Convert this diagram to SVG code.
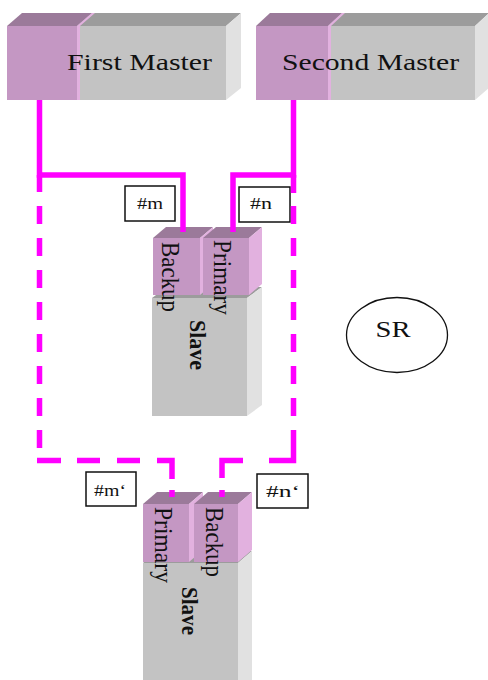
<svg xmlns="http://www.w3.org/2000/svg" width="488" height="680" viewBox="0 0 488 680">
<style>
.pf{fill:#c497c3}.pt{fill:#9b7a9a}.ps{fill:#e2b1df}
.gf{fill:#c3c3c3}.gt{fill:#9c9c9c}.gs{fill:#e1e1e1}
.t{font-family:"Liberation Serif","Times New Roman",serif;fill:#111}
.lbl{fill:#fff;stroke:#111;stroke-width:1.5}
.con{fill:none;stroke:#ff00ff;stroke-width:5.5;stroke-linecap:butt;stroke-linejoin:miter}
</style>
<rect width="488" height="680" fill="#fff"/>
<g id="firstMaster">
<polygon class="gt" points="77,26 226,26 241,13 92,13"/>
<rect class="gf" x="77" y="26" width="149" height="74"/>
<polygon class="gs" points="226,26 241,13 241,88 226,100"/>
<polygon class="pt" points="7,26 77,26 92,13 22,13"/>
<rect class="pf" x="7" y="26" width="70" height="74"/>
<polygon class="ps" points="77,100 77,26 92,13 95,13 80,26 80,100"/>
<text class="t" x="67" y="70" font-size="24" textLength="145" lengthAdjust="spacingAndGlyphs">First Master</text>
</g>
<g id="secondMaster">
<polygon class="gt" points="328,26 475,26 489,13 342,13"/>
<rect class="gf" x="328" y="26" width="147" height="74"/>
<polygon class="gs" points="475,26 489,13 489,88 475,100"/>
<polygon class="pt" points="256,26 328,26 342,13 270,13"/>
<rect class="pf" x="256" y="26" width="72" height="74"/>
<polygon class="ps" points="328,100 328,26 342,13 345,13 331,26 331,100"/>
<text class="t" x="282" y="70" font-size="24" textLength="177" lengthAdjust="spacingAndGlyphs">Second Master</text>
</g>
<g id="slaveUpper">
<polygon class="gt" points="152,298 247,298 262,287 167,287"/>
<rect class="gf" x="152" y="298" width="95" height="118"/>
<polygon class="gs" points="247,298 262,287 262,405 247,416"/>
<g id="backupUpper">
<polygon class="pt" points="153,238 200,238 213,227 166,227"/>
<rect class="pf" x="153" y="238" width="47" height="57"/>
<polygon class="ps" points="200,238 213,227 213,284 200,295"/>
</g>
<g id="primaryUpper">
<polygon class="pt" points="203,238 249,238 262,227 216,227"/>
<rect class="pf" x="203" y="238" width="46" height="57"/>
<polygon class="ps" points="249,238 262,227 262,284 249,295"/>
</g>
<text class="t" transform="translate(162,242) rotate(90) scale(1,1.24)" font-size="20" textLength="70" lengthAdjust="spacingAndGlyphs">Backup</text>
<text class="t" transform="translate(214,240) rotate(90) scale(1,1.24)" font-size="20" textLength="75" lengthAdjust="spacingAndGlyphs">Primary</text>
<text class="t" transform="translate(190,320) rotate(90) scale(1,1.24)" font-size="19" font-weight="bold" textLength="50" lengthAdjust="spacingAndGlyphs">Slave</text>
</g>
<g id="slaveLower">
<polygon class="gt" points="143,563 238,563 252,551 157,551"/>
<rect class="gf" x="143" y="563" width="95" height="130"/>
<polygon class="gs" points="238,563 252,551 252,690 238,690"/>
<g id="primaryLower">
<polygon class="pt" points="143,504 189,504 203,492 157,492"/>
<rect class="pf" x="143" y="504" width="46" height="58"/>
<polygon class="ps" points="189,504 203,492 203,550 189,562"/>
</g>
<g id="backupLower">
<polygon class="pt" points="194,504 238,504 252,492 208,492"/>
<rect class="pf" x="194" y="504" width="44" height="58"/>
<polygon class="ps" points="238,504 252,492 252,550 238,562"/>
</g>
<text class="t" transform="translate(155,507) rotate(90) scale(1,1.24)" font-size="20" textLength="76" lengthAdjust="spacingAndGlyphs">Primary</text>
<text class="t" transform="translate(206,507) rotate(90) scale(1,1.24)" font-size="20" textLength="70" lengthAdjust="spacingAndGlyphs">Backup</text>
<text class="t" transform="translate(182,587) rotate(90) scale(1,1.24)" font-size="19" font-weight="bold" textLength="48" lengthAdjust="spacingAndGlyphs">Slave</text>
</g>
<g id="labelM">
<rect class="lbl" x="125" y="186" width="50" height="35"/>
<text class="t" x="150" y="209" font-size="17" text-anchor="middle" textLength="26" lengthAdjust="spacingAndGlyphs">#m</text>
</g>
<g id="labelN">
<rect class="lbl" x="239" y="187" width="51" height="35"/>
<text class="t" x="261" y="209" font-size="17" text-anchor="middle" textLength="22" lengthAdjust="spacingAndGlyphs">#n</text>
</g>
<g id="labelM2">
<rect class="lbl" x="86" y="472" width="50" height="34"/>
<text class="t" x="110" y="496" font-size="17" text-anchor="middle" textLength="32" lengthAdjust="spacingAndGlyphs">#m‘</text>
</g>
<g id="labelN2">
<rect class="lbl" x="257" y="474" width="51" height="34"/>
<text class="t" x="283" y="497" font-size="17" text-anchor="middle" textLength="34" lengthAdjust="spacingAndGlyphs">#n‘</text>
</g>
<g id="sr">
<ellipse cx="397" cy="335" rx="50.5" ry="37.5" fill="#fff" stroke="#111" stroke-width="1.3"/>
<text class="t" x="393" y="337" font-size="23" text-anchor="middle" textLength="35" lengthAdjust="spacingAndGlyphs">SR</text>
</g>
<g id="connectors">
<path class="con" d="M39.5,100 V175 H183 V232"/>
<path class="con" d="M293.5,100 V175 H233 V232"/>
<path class="con" d="M39.5,175 V192 M39.5,206 V224 M39.5,238 V256 M39.5,270 V288 M39.5,302 V320 M39.5,334 V352 M39.5,366 V384 M39.5,398 V416 M39.5,430 V448 M37,460.5 H61 M77,460.5 H100 M117,460.5 H140 M157,460.5 H172 V479 M172,490 V497"/>
<path class="con" d="M293.5,175 V193 M293.5,206 V224 M293.5,238 V256 M293.5,270 V288 M293.5,302 V320 M293.5,334 V352 M293.5,366 V384 M293.5,398 V416 M293.5,430 V460.5 H269 M243,460.5 H222 V478 M222,490 V497"/>
</g>
</svg>
